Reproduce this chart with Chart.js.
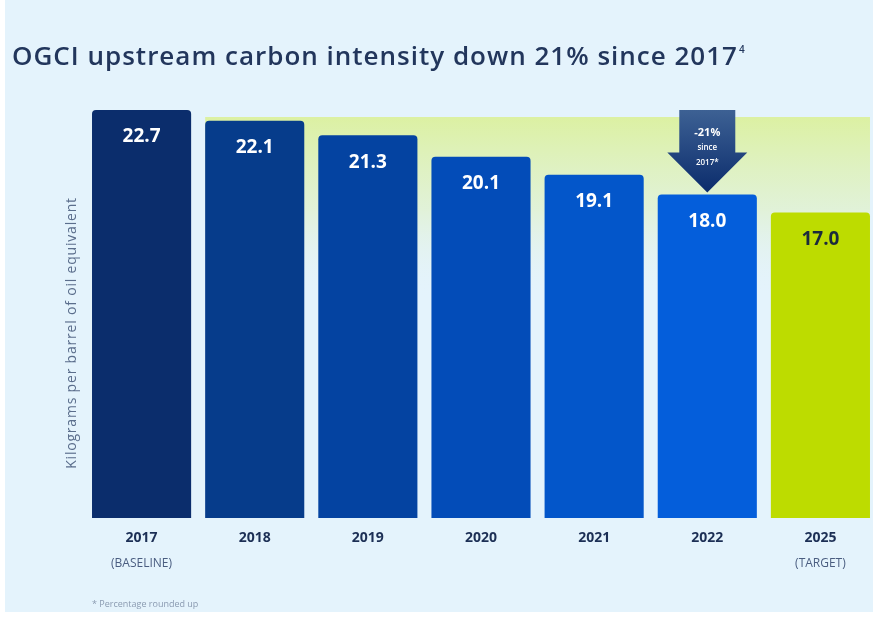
<!DOCTYPE html>
<html>
<head>
<meta charset="utf-8">
<script src="https://cdn.jsdelivr.net/npm/chart.js@4"></script>
<style>
  html, body { margin: 0; padding: 0; background: #fff; }
  #wrap { width: 879px; height: 617px; }
</style>
</head>
<body>
<div id="wrap"><canvas id="intensityChart" width="879" height="617"></canvas></div>
<script>
const years = ['2017', '2018', '2019', '2020', '2021', '2022', '2025'];
const subLabels = ['(BASELINE)', '', '', '', '', '', '(TARGET)'];
const intensity = [22.7, 22.1, 21.3, 20.1, 19.1, 18.0, 17.0];
const barColors = ['#0b2d6c', '#063c8b', '#0443a1', '#034cb8', '#0356ca', '#045edb', '#bddc00'];
const valueColors = ['#ffffff', '#ffffff', '#ffffff', '#ffffff', '#ffffff', '#ffffff', '#1b2a3c'];

const titleText = 'OGCI upstream carbon intensity down 21% since 2017';
const yTitle = 'Kilograms per barrel of oil equivalent';
const footnote = '* Percentage rounded up';
const arrowLines = ['-21%', 'since', '2017*'];
const arrowIndex = 5;

const fontFamily = '"Open Sans", "DejaVu Sans", sans-serif';

// background panel, green band, title, axis title, footnote
const decor = {
  id: 'decor',
  beforeDraw: (chart) => {
    const c = chart.ctx;
    c.save();
    c.fillStyle = '#ffffff';
    c.fillRect(0, 0, chart.width, chart.height);
    c.fillStyle = '#e4f3fc';
    c.fillRect(5, 0, 868, 612);

    // title
    c.fillStyle = '#22365c';
    c.font = '600 26px ' + fontFamily;
    c.letterSpacing = '1px';
    c.textBaseline = 'middle';
    c.textAlign = 'left';
    c.fillText(titleText, 12, 58);
    const w = c.measureText(titleText).width;
    c.letterSpacing = '0px';
    c.font = '600 10px ' + fontFamily;
    c.fillText('4', 12 + w + 1, 50);

    // y axis title
    c.translate(72, 333);
    c.rotate(-Math.PI / 2);
    c.textAlign = 'center';
    c.fillStyle = '#5b6e8c';
    c.font = '14px ' + fontFamily;
    c.letterSpacing = '0.8px';
    c.fillText(yTitle, 0, 0);
    c.restore();

    // footnote
    c.save();
    c.fillStyle = '#8a9ab0';
    c.font = '9px ' + fontFamily;
    c.textBaseline = 'middle';
    c.fillText(footnote, 92, 604);
    c.restore();
  },
  beforeDatasetsDraw: (chart) => {
    const meta = chart.getDatasetMeta(0);
    const first = meta.data[1];
    const last = meta.data[meta.data.length - 1];
    const left = first.x - first.width / 2;
    const right = last.x + last.width / 2;
    const top = 117;
    const bottom = 300;
    const c = chart.ctx;
    const g = c.createLinearGradient(0, top, 0, bottom);
    g.addColorStop(0, 'rgba(218, 240, 140, 0.8)');
    g.addColorStop(0.5, 'rgba(220, 240, 160, 0.4)');
    g.addColorStop(1, 'rgba(228, 243, 252, 0)');
    c.save();
    c.fillStyle = g;
    c.fillRect(left, top, right - left, bottom - top);
    c.restore();
  },
  afterDatasetsDraw: (chart) => {
    const meta = chart.getDatasetMeta(0);
    const c = chart.ctx;
    c.save();
    c.textAlign = 'center';
    c.textBaseline = 'middle';
    c.font = 'bold 19px ' + fontFamily;
    meta.data.forEach((bar, i) => {
      c.fillStyle = valueColors[i];
      c.fillText(intensity[i].toFixed(1), bar.x, bar.y + 27);
    });

    // arrow over 2022
    const bar = meta.data[arrowIndex];
    const cx = bar.x;
    const top = chart.chartArea.top;
    const tip = bar.y - 2;
    const headTop = tip - 40;
    const g = c.createLinearGradient(0, top, 0, tip);
    g.addColorStop(0, '#3d6194');
    g.addColorStop(1, '#0b2c6c');
    c.fillStyle = g;
    c.beginPath();
    c.moveTo(cx - 28, top);
    c.lineTo(cx + 28, top);
    c.lineTo(cx + 28, headTop);
    c.lineTo(cx + 40, headTop);
    c.lineTo(cx, tip);
    c.lineTo(cx - 40, headTop);
    c.lineTo(cx - 28, headTop);
    c.closePath();
    c.fill();
    c.fillStyle = '#ffffff';
    c.font = 'bold 11px ' + fontFamily;
    c.fillText(arrowLines[0], cx, top + 23);
    c.font = '600 8px ' + fontFamily;
    c.fillText(arrowLines[1], cx, top + 38);
    c.fillText(arrowLines[2], cx, top + 53);
    c.restore();
  }
};

new Chart(document.getElementById('intensityChart').getContext('2d'), {
  type: 'bar',
  data: {
    labels: years,
    datasets: [{
      data: intensity,
      backgroundColor: barColors,
      borderRadius: 4,
      barPercentage: 0.876,
      categoryPercentage: 1
    }]
  },
  options: {
    responsive: false,
    animation: false,
    layout: { padding: { left: 85, right: 2, top: 110, bottom: 47 } },
    plugins: {
      legend: { display: false },
      tooltip: { enabled: false }
    },
    scales: {
      y: { display: false, min: 0, max: 22.7 },
      x: {
        grid: { display: false, drawTicks: false },
        border: { display: false },
        ticks: {
          padding: 13,
          color: '#1c2f55',
          font: { family: fontFamily, size: 14, weight: 'bold', lineHeight: 1 }
        }
      },
      x2: {
        type: 'category',
        labels: subLabels,
        position: 'bottom',
        offset: true,
        grid: { display: false, drawTicks: false },
        border: { display: false },
        ticks: {
          padding: 0,
          autoSkip: false,
          color: '#4a5d80',
          font: { family: fontFamily, size: 12, lineHeight: 1 }
        }
      }
    }
  },
  plugins: [decor]
});
</script>
</body>
</html>
